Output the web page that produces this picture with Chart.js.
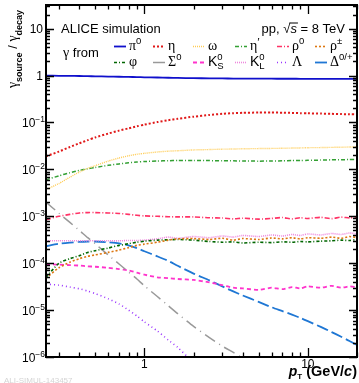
<!DOCTYPE html>
<html><head><meta charset="utf-8">
<script src="https://cdn.jsdelivr.net/npm/chart.js@4/dist/chart.umd.min.js"></script>
<style>html,body{margin:0;padding:0;background:#fff;}canvas{display:block;}</style>
</head><body>
<canvas id="c" width="359" height="383"></canvas>
<script>
// ---------- data ----------
const pT = [0.25,0.3,0.35,0.4,0.45,0.5,0.6,0.7,0.8,0.9,1.0,1.2,1.4,1.6,2.0,2.5,3,3.5,4,5,6,7,8,9,10,12,14,16,18,20];
const pi0 = [1.0,0.99,0.985,0.98,0.97,0.965,0.955,0.945,0.935,0.93,0.92,0.91,0.9,0.89,0.88,0.875,0.87,0.865,0.862,0.86,0.858,0.857,0.856,0.855,0.855,0.854,0.853,0.852,0.851,0.85];
const eta = [0.019,0.024,0.03,0.036,0.042,0.048,0.058,0.067,0.075,0.083,0.09,0.102,0.112,0.12,0.133,0.145,0.153,0.158,0.161,0.163,0.163,0.162,0.16,0.158,0.157,0.155,0.153,0.151,0.15,0.149];
const omega = [0.0037,0.005,0.0068,0.0088,0.0105,0.012,0.015,0.0175,0.0195,0.021,0.022,0.0235,0.0245,0.025,0.026,0.0265,0.027,0.0272,0.0275,0.0278,0.028,0.0282,0.0285,0.0287,0.029,0.0292,0.0295,0.0297,0.03,0.03];
const etaPrime = [0.006,0.0073,0.0085,0.0095,0.0103,0.011,0.0122,0.0131,0.0138,0.0143,0.0147,0.0151,0.0153,0.0155,0.0155,0.0154,0.0153,0.0152,0.0151,0.015,0.0151,0.0152,0.0154,0.0155,0.0156,0.0158,0.016,0.0161,0.0162,0.0163];
const rho0 = [0.00085,0.001,0.0011,0.00118,0.0012,0.0012,0.00118,0.00115,0.0011,0.00105,0.00102,0.001,0.00098,0.00097,0.00097,0.00093,0.00092,0.00088,0.00091,0.00087,0.0009,0.00094,0.00088,0.00093,0.0009,0.00095,0.00089,0.00096,0.00092,0.00097];
const rhoPM = [4.8e-5,8e-5,1.05e-4,1.25e-4,1.4e-4,1.5e-4,1.7e-4,1.9e-4,2.15e-4,2.4e-4,2.55e-4,2.8e-4,3.1e-4,3.3e-4,3.35e-4,3.2e-4,3.4e-4,3.1e-4,3.35e-4,3.2e-4,3.45e-4,3.3e-4,3.5e-4,3.3e-4,3.5e-4,3.4e-4,3.6e-4,3.4e-4,3.7e-4,3.5e-4];
const phi = [5e-5,1e-4,1.25e-4,1.45e-4,1.7e-4,1.85e-4,2.1e-4,2.4e-4,2.6e-4,2.8e-4,2.95e-4,3.1e-4,3.15e-4,3.2e-4,3.1e-4,2.9e-4,2.8e-4,2.85e-4,2.7e-4,2.8e-4,2.75e-4,2.85e-4,2.8e-4,2.9e-4,2.85e-4,2.95e-4,3e-4,3.1e-4,3.05e-4,3.2e-4];
const sigma0 = [2e-3,1.16e-3,7.4e-4,5e-4,3.5e-4,2.6e-4,1.5e-4,9.6e-5,6.5e-5,4.6e-5,3.3e-5,1.95e-5,1.24e-5,8.4e-6,4.5e-6,2.6e-6,1.7e-6,1.25e-6,9.5e-7,6e-7,null,null,null,null,null,null,null,null,null,null];
const K0S = [9.5e-5,9.3e-5,9.1e-5,8.9e-5,8.6e-5,8.4e-5,8e-5,7.5e-5,7e-5,6.3e-5,5.7e-5,5e-5,4.8e-5,4.6e-5,4.4e-5,3.9e-5,3.4e-5,3e-5,2.9e-5,2.7e-5,3e-5,2.8e-5,3.1e-5,2.9e-5,3.2e-5,3e-5,3.3e-5,3e-5,3.2e-5,3.1e-5];
const K0L = [3e-4,3e-4,3e-4,3e-4,3e-4,3e-4,3e-4,3e-4,3.05e-4,3.05e-4,3.1e-4,3.3e-4,3.6e-4,3.4e-4,3.7e-4,3.5e-4,3.8e-4,3.6e-4,3.9e-4,3.7e-4,4e-4,3.8e-4,4.1e-4,3.9e-4,4.2e-4,4e-4,4.3e-4,4.1e-4,4.4e-4,4.2e-4];
const lambda0 = [3.6e-5,3.4e-5,3.1e-5,2.85e-5,2.55e-5,2.25e-5,1.75e-5,1.35e-5,1e-5,7.5e-6,5.6e-6,3.6e-6,2.3e-6,1.6e-6,7.5e-7,null,null,null,null,null,null,null,null,null,null,null,null,null,null,null];
const delta = [2.3e-4,2.6e-4,2.75e-4,2.85e-4,2.9e-4,2.9e-4,2.8e-4,2.65e-4,2.4e-4,2.1e-4,1.8e-4,1.4e-4,1.12e-4,8.8e-5,6e-5,4.3e-5,3.2e-5,2.5e-5,2.05e-5,1.5e-5,1.15e-5,9.5e-6,8e-6,6.8e-6,5.8e-6,4.4e-6,3.4e-6,2.7e-6,2.2e-6,1.8e-6];

const seriesNames = ['π0','η','ω',"η'",'ρ0','ρ±','φ','Σ0','K0S','K0L','Λ','Δ0/+'];
const yTickValues = [1e-6,1e-5,1e-4,1e-3,1e-2,1e-1,1,10];
const yTickBase   = ['10','10','10','10','10','10','1','10'];
const yTickExp    = ['−6','−5','−4','−3','−2','−1','',''];
const xTickValues = [1,10];
const xTickLabels = ['1','10'];

// ---------- styles ----------
const SANS = '"Liberation Sans", Arial, sans-serif';
const SERIF = '"Liberation Serif", "Times New Roman", serif';
const styles = [
  {c:'#1010cc', d:[], w:1.8},
  {c:'#e01818', d:[2,2], w:2},
  {c:'#ffcc55', d:[1,1], w:1.4},
  {c:'#33a033', d:[4,2,1,2], w:1.5},
  {c:'#ff3366', d:[5,2,1,2], w:1.6},
  {c:'#dd7711', d:[2,2], w:1.6},
  {c:'#006600', d:[3,2,1,2], w:1.6},
  {c:'#999999', d:[12,5,1,5], w:1.5},
  {c:'#ff33cc', d:[4,3], w:1.8},
  {c:'#ee88dd', d:[1,1], w:1.6},
  {c:'#9933ff', d:[1,3], w:1.6},
  {c:'#1f77d4', d:[12,4], w:1.8}
];
const seriesData = [pi0,eta,omega,etaPrime,rho0,rhoPM,phi,sigma0,K0S,K0L,lambda0,delta];

const datasets = seriesData.map((arr,i)=>({
  label: seriesNames[i],
  data: pT.map((x,j)=>({x:x, y:arr[j]})),
  borderColor: styles[i].c,
  borderDash: styles[i].d,
  borderWidth: styles[i].w,
  pointRadius: 0,
  fill: false,
  tension: 0.2,
  spanGaps: false
}));

// ---------- rich text helper ----------
function segWidth(ctx,s){
  ctx.font = s.f;
  if (s.t !== undefined) return ctx.measureText(s.t).width;
  return Math.max(s.sup?ctx.measureText(s.sup).width:0, s.sub?ctx.measureText(s.sub).width:0);
}
function drawRich(ctx,x,y,segs,align){
  let total = 0; segs.forEach(s=>total += segWidth(ctx,s) + (s.gap||0));
  let cx = align==='right' ? x-total : (align==='center' ? x-total/2 : x);
  ctx.textAlign='left'; ctx.textBaseline='alphabetic';
  segs.forEach(s=>{
    const w = segWidth(ctx,s);
    ctx.font = s.f;
    if (s.t !== undefined){
      ctx.fillText(s.t, cx, y + (s.dy||0));
      if (s.over){
        ctx.save(); ctx.lineWidth=1; ctx.strokeStyle=ctx.fillStyle;
        ctx.beginPath(); ctx.moveTo(cx-1, y-s.over); ctx.lineTo(cx+w+1, y-s.over); ctx.stroke(); ctx.restore();
      }
    } else {
      if (s.sup) ctx.fillText(s.sup, cx, y - (s.up||5));
      if (s.sub) ctx.fillText(s.sub, cx, y + (s.down||3));
    }
    cx += w + (s.gap||0);
  });
  return total;
}

const G = (t)=>({t:t, f:'14px '+SERIF});
const SUP = (t)=>({sup:t, f:'9.5px '+SANS, up:6});
const legendEntries = [
  [G('π'),SUP('0')],
  [G('η')],
  [G('ω')],
  [G('η'),{sup:'′', f:'12px '+SERIF, up:4}],
  [G('ρ'),SUP('0')],
  [G('ρ'),SUP('±')],
  [G('φ')],
  [G('Σ'),SUP('0')],
  [{t:'K', f:'14px '+SANS},{sup:'0', sub:'S', f:'9.5px '+SANS, up:6, down:3}],
  [{t:'K', f:'14px '+SANS},{sup:'0', sub:'L', f:'9.5px '+SANS, up:6, down:3}],
  [G('Λ')],
  [G('Δ'),SUP('0/+')]
];
const legendCols = [114,153,193,235,277,315];

const rootPlugin = {
  id:'rootStyle',
  beforeDraw(chart){
    const ctx = chart.ctx; ctx.save(); ctx.fillStyle='#fff'; ctx.fillRect(0,0,chart.width,chart.height); ctx.restore();
  },
  afterDraw(chart){
    const ctx = chart.ctx;
    const xs = chart.scales.x, ys = chart.scales.y;
    const {left,right,top,bottom} = chart.chartArea;
    ctx.save();
    ctx.setLineDash([]);
    ctx.strokeStyle='#000'; ctx.fillStyle='#000';
    // frame
    ctx.lineWidth = 2;
    ctx.strokeRect(left, top, right-left, bottom-top);
    // ticks
    ctx.lineWidth = 1.3;
    ctx.beginPath();
    for (let d=-1; d<=1; d++) for (let m=1; m<=9; m++){
      const v = m*Math.pow(10,d);
      if (v < xs.min*0.999 || v > xs.max*1.001) continue;
      const px = Math.round(xs.getPixelForValue(v))+0.5;
      const len = m===1?9:4.5;
      ctx.moveTo(px,bottom); ctx.lineTo(px,bottom-len);
      ctx.moveTo(px,top); ctx.lineTo(px,top+len);
    }
    for (let d=-6; d<=1; d++) for (let m=1; m<=9; m++){
      const v = m*Math.pow(10,d);
      if (v < ys.min*0.999 || v > ys.max*1.001) continue;
      const py = Math.round(ys.getPixelForValue(v))+0.5;
      const len = m===1?8:4;
      ctx.moveTo(left,py); ctx.lineTo(left+len,py);
      ctx.moveTo(right,py); ctx.lineTo(right-len,py);
    }
    ctx.stroke();
    // y tick labels
    yTickValues.forEach((v,i)=>{
      const py = ys.getPixelForValue(v);
      const segs = [{t:yTickBase[i], f:'12px '+SANS}];
      if (yTickExp[i]) segs.push({sup:yTickExp[i], f:'8.5px '+SANS, up:5});
      drawRich(ctx, yTickExp[i]?45:43, py+4.5, segs, 'right');
    });
    // x tick labels
    xTickValues.forEach((v,i)=>{
      const px = xs.getPixelForValue(v);
      drawRich(ctx, px, 368, [{t:xTickLabels[i], f:'12px '+SANS}], 'center');
    });
    // x title
    drawRich(ctx, 357, 376, [
      {t:'p', f:'bold italic 14px '+SANS},
      {t:'T', f:'bold 8px '+SANS, dy:3, gap:4},
      {t:'(GeV/', f:'bold 14.5px '+SANS},
      {t:'c', f:'bold italic 14.5px '+SANS},
      {t:')', f:'bold 14.5px '+SANS}
    ], 'right');
    // y title
    ctx.save();
    ctx.translate(17, 49);
    ctx.rotate(-Math.PI/2);
    drawRich(ctx, 0, 0, [
      {t:'γ', f:'14px '+SERIF},
      {t:'source', f:'bold 9px '+SANS, dy:5},
      {t:' / ', f:'13px '+SANS},
      {t:'γ', f:'14px '+SERIF},
      {t:'decay', f:'bold 9px '+SANS, dy:5}
    ], 'center');
    ctx.restore();
    // annotations
    drawRich(ctx, 61, 33, [{t:'ALICE simulation', f:'13px '+SANS}], 'left');
    drawRich(ctx, 345, 33, [
      {t:'pp, ', f:'13px '+SANS},
      {t:'√', f:'13px '+SANS},
      {t:'s', f:'italic 13px '+SANS, over:10},
      {t:' = 8 TeV', f:'13px '+SANS}
    ], 'right');
    drawRich(ctx, 63, 56.5, [{t:'γ', f:'14px '+SERIF},{t:' from', f:'13px '+SANS}], 'left');
    // legend
    legendEntries.forEach((segs,i)=>{
      const row = Math.floor(i/6), col = i%6;
      const x0 = legendCols[col];
      const base = row===0 ? 50 : 66;
      const ly = base - 3.5;
      const st = styles[i];
      ctx.save();
      ctx.strokeStyle = st.c; ctx.lineWidth = st.w; ctx.setLineDash(st.d);
      ctx.beginPath(); ctx.moveTo(x0, ly); ctx.lineTo(x0+12, ly); ctx.stroke();
      ctx.restore();
      ctx.fillStyle='#000';
      drawRich(ctx, x0+15, base, segs, 'left');
    });
    // watermark
    ctx.fillStyle='#d4d4d4';
    drawRich(ctx, 4, 383, [{t:'ALI-SIMUL-143457', f:'8px '+SANS}], 'left');
    ctx.restore();
  }
};

new Chart(document.getElementById('c'), {
  type:'line',
  data:{datasets:datasets},
  options:{
    responsive:false, animation:false, devicePixelRatio:1,
    layout:{padding:{left:46, top:5, right:2, bottom:26}},
    plugins:{legend:{display:false}, tooltip:{enabled:false}},
    scales:{
      x:{type:'logarithmic', min:0.25, max:20, display:false},
      y:{type:'logarithmic', min:1e-6, max:32, display:false}
    }
  },
  plugins:[rootPlugin]
});
</script>
</body></html>
